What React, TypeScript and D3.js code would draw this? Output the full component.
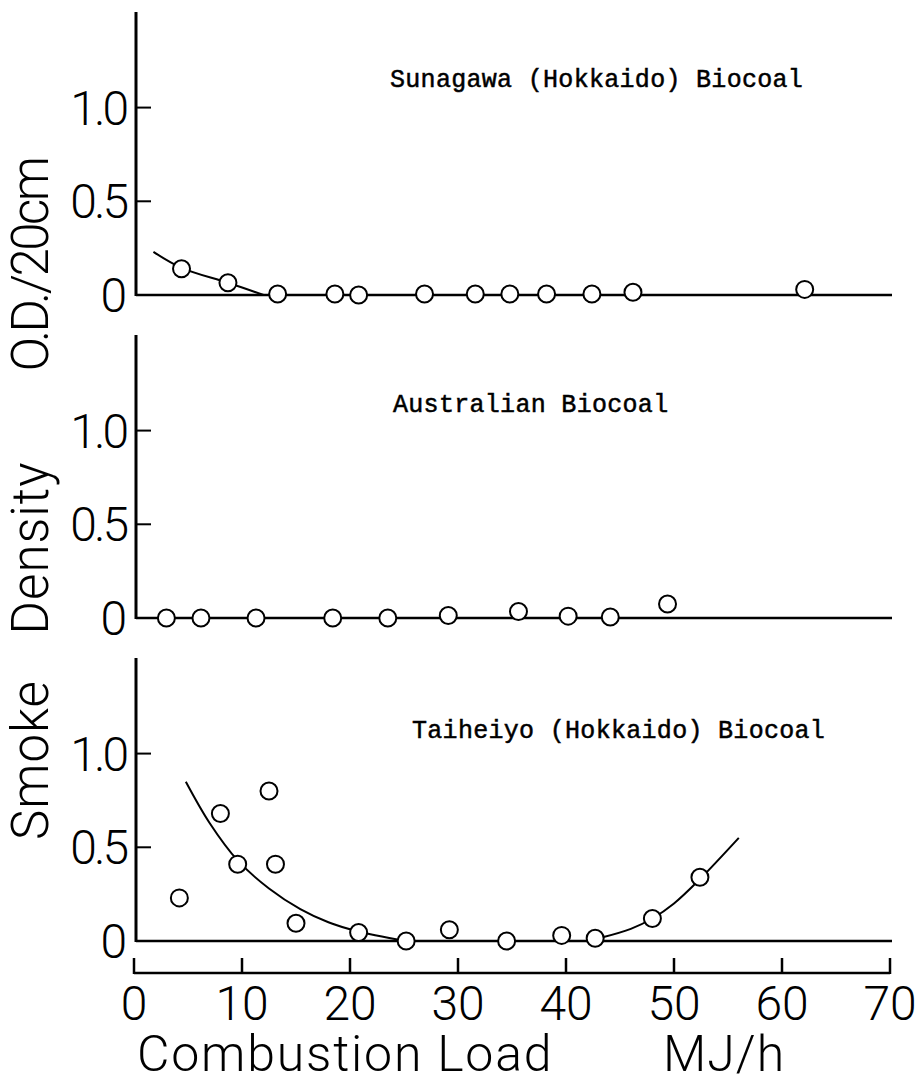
import React, { useEffect, useRef } from "react";
import * as d3 from "d3";

// Sunagawa (Hokkaido) Biocoal
const sunagawaX = [4.4, 8.7, 13.3, 18.6, 20.8, 26.9, 31.6, 34.8, 38.2, 42.4, 46.2, 62.1];
const sunagawaY = [0.14, 0.065, 0.005, 0.005, 0.0, 0.005, 0.005, 0.005, 0.005, 0.005, 0.015, 0.03];
const sunagawaFitX = [1.8, 4.4, 8.7, 12];
const sunagawaFitY = [0.23, 0.145, 0.065, 0.0];

// Australian Biocoal
const australianX = [3.0, 6.2, 11.3, 18.4, 23.5, 29.1, 35.6, 40.2, 44.1, 49.4];
const australianY = [0.0, 0.0, 0.0, 0.0, 0.0, 0.013, 0.035, 0.01, 0.005, 0.075];

// Taiheiyo (Hokkaido) Biocoal
const taiheiyoX = [4.2, 8.0, 9.6, 12.5, 13.1, 15.0, 20.8, 25.2, 29.2, 34.5, 39.6, 42.7, 48.0, 52.4];
const taiheiyoY = [0.23, 0.68, 0.41, 0.8, 0.41, 0.095, 0.045, 0.0, 0.06, 0.0, 0.03, 0.015, 0.12, 0.34];
const taiheiyoFitLeftX = [4.8, 7, 9.6, 12.5, 15.4, 18, 20.5, 25.2];
const taiheiyoFitLeftY = [0.85, 0.63, 0.43, 0.28, 0.17, 0.1, 0.055, 0.0];
const taiheiyoFitRightX = [43.4, 46, 48, 50, 52.4, 56];
const taiheiyoFitRightY = [0.02, 0.065, 0.12, 0.2, 0.33, 0.55];

const yTicks = [0, 0.5, 1.0];
const xTicks = [0, 10, 20, 30, 40, 50, 60, 70];
const yTitleWords = ["Smoke", "Density", "O.D./20cm"];

const panels = [
  { title: "Sunagawa (Hokkaido) Biocoal", xs: sunagawaX, ys: sunagawaY,
    fits: [[sunagawaFitX, sunagawaFitY]], top: 12, titleX: 390, titleY: 87 },
  { title: "Australian Biocoal", xs: australianX, ys: australianY,
    fits: [], top: 335, titleX: 393, titleY: 412 },
  { title: "Taiheiyo (Hokkaido) Biocoal", xs: taiheiyoX, ys: taiheiyoY,
    fits: [[taiheiyoFitLeftX, taiheiyoFitLeftY], [taiheiyoFitRightX, taiheiyoFitRightY]],
    top: 658, titleX: 412, titleY: 738 },
];

const App = () => {
  const svgRef = useRef(null);

  useEffect(() => {
    const width = 918;
    const height = 1081;
    const svg = d3.select(svgRef.current).attr("width", width).attr("height", height);
    svg.selectAll("*").remove();

    const sans = "Roboto, 'Liberation Sans', sans-serif";
    const axisLeft = 136;
    const axisRight = 892;
    const panelH = 283;

    // x scale shared by all panels
    const x = d3.scaleLinear().domain([0, 70]).range([134, 890]);

    panels.forEach((p) => {
      const y = d3.scaleLinear().domain([0, 1.51]).range([p.top + panelH, p.top]);
      const g = svg.append("g");

      // zero line
      g.append("line")
        .attr("x1", axisLeft).attr("x2", axisRight)
        .attr("y1", y(0)).attr("y2", y(0))
        .attr("stroke", "#000").attr("stroke-width", 2.5);

      // y axis line
      g.append("line")
        .attr("x1", axisLeft).attr("x2", axisLeft)
        .attr("y1", p.top).attr("y2", y(0) + 1)
        .attr("stroke", "#000").attr("stroke-width", 3);

      // ticks (inward) and labels
      yTicks.forEach((t) => {
        if (t > 0) {
          g.append("line")
            .attr("x1", axisLeft).attr("x2", axisLeft + 15)
            .attr("y1", y(t)).attr("y2", y(t))
            .attr("stroke", "#000").attr("stroke-width", 2);
        }
        g.append("text")
          .attr("x", t === 0 ? 127 : 126)
          .attr("y", y(t) + 17)
          .attr("text-anchor", "end")
          .attr("font-family", sans)
          .attr("font-weight", 300)
          .attr("font-size", 48)
          .attr("letter-spacing", t === 0 ? 0 : -3)
          .text(t === 0 ? "0" : d3.format(".1f")(t));
      });

      // fitted curves
      const line = d3.line().curve(d3.curveCatmullRom)
        .x((d) => x(d[0])).y((d) => y(d[1]));
      p.fits.forEach(([fx, fy]) => {
        g.append("path")
          .attr("d", line(fx.map((v, i) => [v, fy[i]])))
          .attr("fill", "none").attr("stroke", "#000").attr("stroke-width", 2);
      });

      // data points
      g.selectAll("circle.pt")
        .data(p.xs.map((v, i) => [v, p.ys[i]]))
        .enter()
        .append("circle")
        .attr("class", "pt")
        .attr("cx", (d) => x(d[0]))
        .attr("cy", (d) => y(d[1]))
        .attr("r", 8.5)
        .attr("fill", "#fff")
        .attr("stroke", "#000")
        .attr("stroke-width", 2);

      // panel title
      g.append("text")
        .attr("x", p.titleX).attr("y", p.titleY)
        .attr("font-family", "'Liberation Mono', 'Courier New', monospace")
        .attr("font-size", 25)
        .attr("letter-spacing", 0.3)
        .attr("stroke", "#000").attr("stroke-width", 0.5)
        .text(p.title);
    });

    // bottom x axis
    const axisY = 973;
    const xg = svg.append("g");
    xg.append("line")
      .attr("x1", x(0)).attr("x2", x(70))
      .attr("y1", axisY).attr("y2", axisY)
      .attr("stroke", "#000").attr("stroke-width", 2.5);
    xTicks.forEach((t) => {
      xg.append("line")
        .attr("x1", x(t)).attr("x2", x(t))
        .attr("y1", axisY + 1).attr("y2", axisY - 15)
        .attr("stroke", "#000").attr("stroke-width", 2.5);
      xg.append("text")
        .attr("x", x(t)).attr("y", 1020)
        .attr("text-anchor", "middle")
        .attr("font-family", sans).attr("font-weight", 300)
        .attr("font-size", 48)
        .text(t);
    });

    // axis titles
    svg.append("text")
      .attr("x", 137).attr("y", 1071)
      .attr("font-family", sans).attr("font-weight", 300)
      .attr("font-size", 50)
      .attr("letter-spacing", 1.8)
      .text("Combustion Load");
    svg.append("text")
      .attr("x", 663).attr("y", 1071)
      .attr("font-family", sans).attr("font-weight", 300)
      .attr("font-size", 50)
      .attr("letter-spacing", 1)
      .text("MJ/h");

    // rotated y title, one text per word
    const wordCenters = [760, 548, 265];
    yTitleWords.forEach((w, i) => {
      svg.append("text")
        .attr("transform", `translate(48,${wordCenters[i]}) rotate(-90)`)
        .attr("text-anchor", "middle")
        .attr("font-family", sans).attr("font-weight", 300)
        .attr("font-size", 51)
        .attr("letter-spacing", i === 2 ? -2.5 : 1)
        .text(w);
    });
  }, []);

  return (
    <div style={{ position: "absolute", left: 0, top: 0, background: "#fff" }}>
      <svg ref={svgRef}></svg>
    </div>
  );
};

export default App;
